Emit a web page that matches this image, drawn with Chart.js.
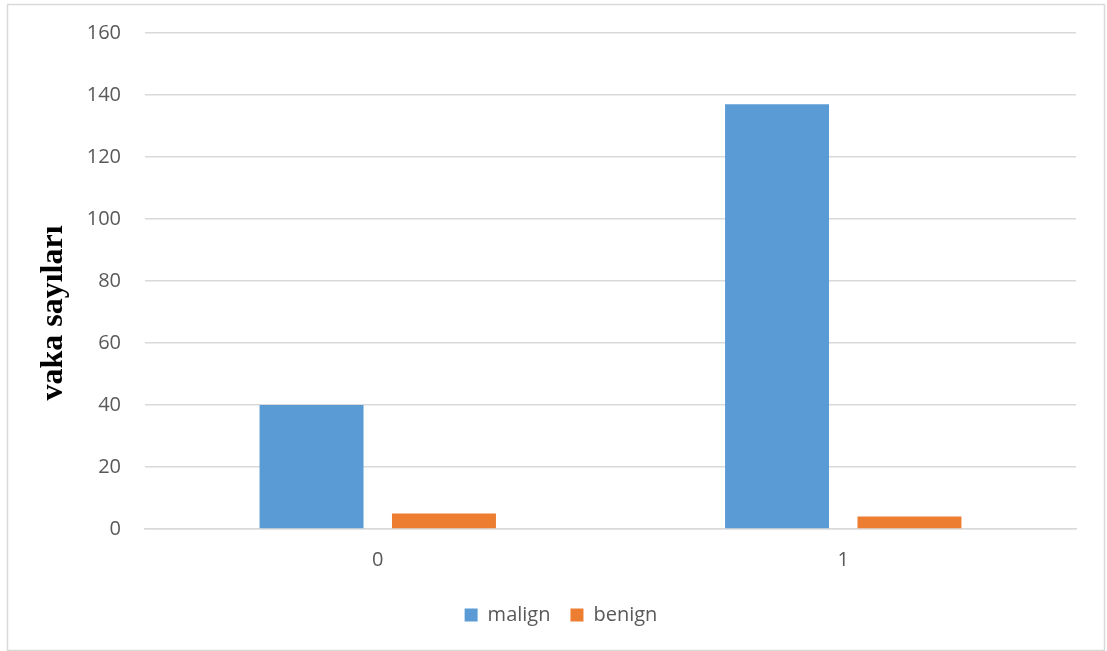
<!DOCTYPE html>
<html>
<head>
<meta charset="utf-8">
<script src="https://cdn.jsdelivr.net/npm/chart.js@4.4.0/dist/chart.umd.min.js"></script>
<style>
  html, body { margin: 0; padding: 0; background: #ffffff; }
  #wrap { width: 1107px; height: 651px; position: relative; }
</style>
</head>
<body>
<div id="wrap"><canvas id="c" width="1107" height="651"></canvas></div>
<script>
// Case counts per group
const categories = ['0', '1'];
const malign = [40, 137];
const benign = [5, 4];
const yTicks = [0, 20, 40, 60, 80, 100, 120, 140, 160];

const tickFont = { family: "'Open Sans', sans-serif", size: 20 };
const tickColor = '#595959';

// Thin frame around the whole chart
const frame = {
  id: 'frame',
  beforeDraw(chart) {
    const ctx = chart.ctx;
    ctx.save();
    ctx.fillStyle = '#ffffff';
    ctx.fillRect(0, 0, chart.width, chart.height);
    ctx.strokeStyle = '#D9D9D9';
    ctx.lineWidth = 1.5;
    ctx.strokeRect(7.5, 4.5, 1097, 646);
    ctx.restore();
  }
};

new Chart(document.getElementById('c'), {
  type: 'bar',
  data: {
    labels: categories,
    datasets: [
      { label: 'malign', data: malign, backgroundColor: '#5B9BD5',
        categoryPercentage: 0.569, barPercentage: 0.785 },
      { label: 'benign', data: benign, backgroundColor: '#ED7D31',
        categoryPercentage: 0.569, barPercentage: 0.785 }
    ]
  },
  options: {
    responsive: false,
    animation: false,
    layout: { padding: { left: 46, right: 31, top: 33, bottom: 16 } },
    plugins: {
      legend: {
        position: 'bottom',
        labels: {
          boxWidth: 13, boxHeight: 13, padding: 20,
          font: tickFont, color: tickColor
        }
      },
      tooltip: { enabled: false }
    },
    scales: {
      x: {
        grid: { display: false, drawTicks: false },
        border: { display: true, color: '#D9D9D9', width: 1.5 },
        ticks: { font: tickFont, color: tickColor, padding: 19 },
        afterFit(scale) { scale.height = 56; }
      },
      y: {
        min: 0, max: 160,
        afterBuildTicks(scale) { scale.ticks = yTicks.map(v => ({ value: v })); },
        grid: { color: '#D9D9D9', lineWidth: 1.5, drawTicks: false },
        border: { display: false },
        ticks: { font: tickFont, color: tickColor, padding: 24 },
        title: {
          display: true,
          // trailing spaces push the visible words toward the lower half of the axis
          text: 'vaka sayıları        ',
          color: '#000000',
          font: { family: "'Liberation Serif', 'Times New Roman', serif", size: 32, weight: 'bold', lineHeight: 1 },
          padding: { top: -8, bottom: 0 }
        },
        afterFit(scale) {
          scale.width = 99;
          // plot top/bottom come from the layout padding alone
          scale.paddingTop = 0;
          scale.paddingBottom = 0;
        }
      }
    }
  },
  plugins: [frame]
});
</script>
</body>
</html>
